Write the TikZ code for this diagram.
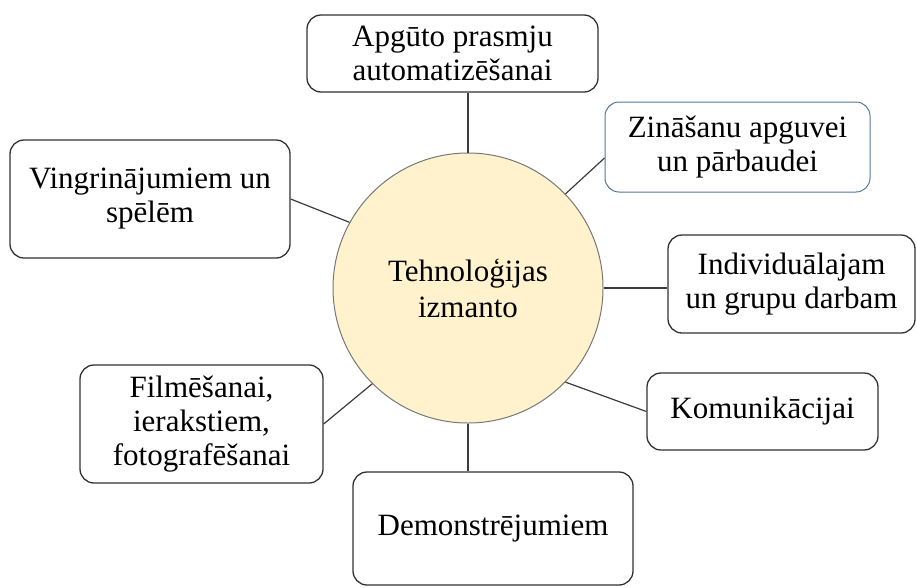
\documentclass[tikz,border=0pt]{standalone}
\usepackage{fontspec}
\setmainfont{Liberation Serif}
\definecolor{boxline}{RGB}{50,50,50}
\definecolor{blueline}{RGB}{84,120,156}
\definecolor{linkc}{RGB}{60,60,60}
\definecolor{circline}{RGB}{120,120,120}
\definecolor{circfill}{RGB}{255,242,204}
\begin{document}
\begin{tikzpicture}[x=1pt,y=-1pt,
  box/.style={draw=boxline, line width=1.3pt, rounded corners=14pt, fill=white,
    align=center, inner sep=0pt, font=\fontsize{31}{34}\selectfont},
  link/.style={draw=linkc, line width=1.2pt}]
\useasboundingbox (0,0) rectangle (917,587);
\node[circle, draw=circline, fill=circfill, line width=1pt, minimum size=270pt,
  inner sep=0pt, align=center, font=\fontsize{31}{36}\selectfont] (c) at (468,288)
  {Tehnoloģijas\\izmanto};
\node[box, minimum width=291pt, minimum height=77pt] (apg) at (452.5,53.5)
  {Apgūto prasmju\\automatizēšanai};
\node[box, draw=blueline, line width=1pt, minimum width=265pt, minimum height=90pt] (zin) at (737.5,147)
  {Zināšanu apguvei\\un pārbaudei};
\node[box, minimum width=280pt, minimum height=118pt] (vin) at (150,199)
  {Vingrinājumiem un\\spēlēm};
\node[box, minimum width=247pt, minimum height=98pt] (ind) at (791.5,284)
  {Individuālajam\\un grupu darbam};
\node[box, minimum width=243pt, minimum height=118pt] (fil) at (201.5,424)
  {Filmēšanai,\\ierakstiem,\\fotografēšanai};
\node[box, minimum width=280pt, minimum height=113pt] (dem) at (493,528.5)
  {Demonstrējumiem};
\node[box, minimum width=231pt, minimum height=77pt] (kom) at (762.5,411.5)
  {Komunikācijai};
\coordinate (zinA) at ([yshift=-11pt]zin.west);
\draw[link] (c.north) -- (c.north |- apg.south);
\draw[link] (c.44) -- (zinA);
\draw[link] (c.151) -- (vin.east);
\draw[link] (c.east) -- (c.east -| ind.west);
\draw[link] (c.225) -- (fil.east);
\draw[link] (c.south) -- (c.south |- dem.north);
\draw[link] (c.-44) -- (kom.west);
\end{tikzpicture}
\end{document}
